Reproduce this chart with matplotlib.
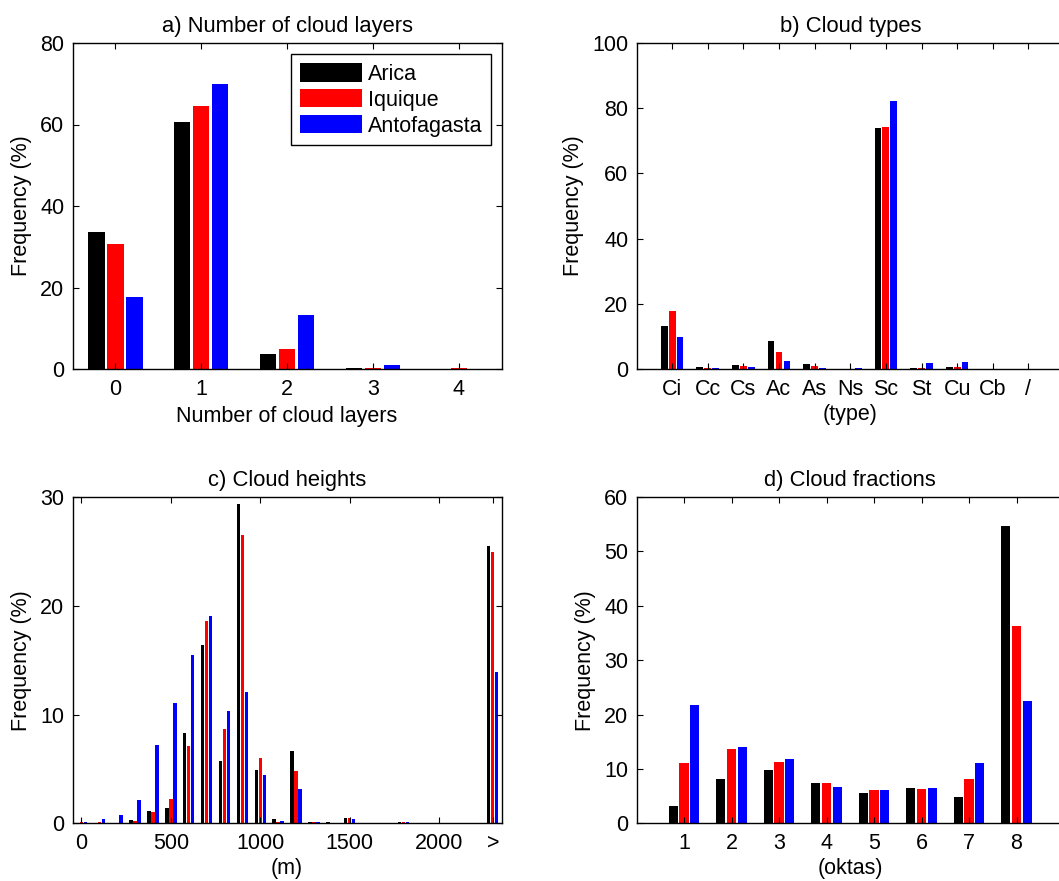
import numpy as np
import matplotlib
matplotlib.use("Agg")
import matplotlib.pyplot as plt

plt.rcParams["font.family"] = ["Liberation Sans", "DejaVu Sans"]
plt.rcParams["font.size"] = 15.5
plt.rcParams["axes.titlesize"] = 15.8
plt.rcParams["axes.labelsize"] = 15.5

stations = ["Arica", "Iquique", "Antofagasta"]
colors = ["black", "red", "blue"]

# a) numero de camadas
layers = [0, 1, 2, 3, 4]
arica_layers = [33.7, 60.5, 3.8, 0.25, 0.05]
iquique_layers = [30.6, 64.5, 5.0, 0.35, 0.25]
antof_layers = [17.6, 69.9, 13.3, 1.06, 0.15]

# b) tipos de nuvem
types = ["Ci", "Cc", "Cs", "Ac", "As", "Ns", "Sc", "St", "Cu", "Cb", "/"]
arica_types = [13.3, 0.7, 1.4, 8.7, 1.5, 0.0, 73.8, 0.4, 0.6, 0.0, 0.0]
iquique_types = [17.9, 0.3, 0.9, 5.2, 1.1, 0.2, 74.2, 0.3, 0.7, 0.2, 0.2]
antof_types = [9.9, 0.4, 0.7, 2.65, 0.4, 0.3, 82.1, 1.95, 2.25, 0.1, 0.1]

# c) alturas (m), o ultimo grupo e ">"
heights = [0, 100, 200, 300, 400, 500, 600, 700, 800, 900, 1000, 1100,
           1200, 1300, 1400, 1500, 1600, 1700, 1800, 1900, 2000, 2100, 2200, 2300]
arica_heights = [0.05, 0.05, 0.05, 0.3, 1.17, 1.38, 8.28, 16.4, 5.74, 29.39, 4.94, 0.37,
                 6.63, 0.15, 0.12, 0.49, 0.03, 0.03, 0.08, 0.03, 0.03, 0.0, 0.0, 25.46]
iquique_heights = [0.1, 0.1, 0.05, 0.2, 1.04, 2.27, 7.15, 18.56, 8.65, 26.47, 6.01, 0.12,
                   4.79, 0.1, 0.06, 0.49, 0.05, 0.05, 0.1, 0.05, 0.05, 0.0, 0.0, 24.9]
antof_heights = [0.15, 0.37, 0.8, 2.1, 7.24, 11.1, 15.5, 19.08, 10.28, 12.09, 4.45, 0.25,
                 3.19, 0.12, 0.06, 0.37, 0.05, 0.05, 0.1, 0.05, 0.03, 0.0, 0.0, 13.87]
height_ticks = [0, 500, 1000, 1500, 2000, 2300]
height_labels = ["0", "500", "1000", "1500", "2000", ">"]

# d) fracao de nuvens (oktas)
oktas = [1, 2, 3, 4, 5, 6, 7, 8]
arica_oktas = [3.1, 8.2, 9.8, 7.5, 5.6, 6.5, 4.8, 54.6]
iquique_oktas = [11.0, 13.7, 11.2, 7.45, 6.2, 6.3, 8.1, 36.3]
antof_oktas = [21.7, 14.1, 11.8, 6.65, 6.1, 6.45, 11.0, 22.5]


def barras(ax, x, series, step=1.0):
    x = np.asarray(x, dtype=float)
    for i, (vals, c) in enumerate(zip(series, colors)):
        ax.bar(x + (i - 1) * 0.222 * step, vals, width=0.19 * step,
               color=c, edgecolor="none", label=stations[i])


def estilo(ax, direita=True):
    ax.tick_params(direction="in", top=True, right=direita, length=4, width=0.8)
    ax.tick_params(axis="y", pad=6)
    ax.tick_params(axis="x", pad=7)
    for s in ax.spines.values():
        s.set_linewidth(1.0)
    ax.set_ylabel("Frequency (%)", labelpad=6)


fig = plt.figure(figsize=(10.59, 8.81), dpi=100)
W, H = 1059.0, 881.0


def eixo(l, r, t, b):
    return fig.add_axes([l / W, 1 - b / H, (r - l) / W, (b - t) / H])


ax1 = eixo(72.5, 501.7, 42.9, 369.3)
ax2 = eixo(636.5, 1064.0, 42.9, 369.3)
ax3 = eixo(72.5, 501.7, 497.0, 823.3)
ax4 = eixo(636.5, 1064.0, 497.0, 823.3)

# a)
barras(ax1, layers, [arica_layers, iquique_layers, antof_layers])
ax1.set_xlim(-0.5, 4.5)
ax1.set_ylim(0, 80)
ax1.set_xticks(layers)
ax1.set_yticks([0, 20, 40, 60, 80])
ax1.set_xlabel("Number of cloud layers", labelpad=4)
ax1.set_title("a) Number of cloud layers", pad=8)
estilo(ax1)
leg = ax1.legend(loc="upper right", bbox_to_anchor=(0.9744, 0.965), borderaxespad=0,
                 fancybox=False, framealpha=1, edgecolor="black",
                 handlelength=2.9, handleheight=0.95, handletextpad=0.26,
                 labelspacing=0.2, borderpad=0.4)
leg.get_frame().set_linewidth(1.0)

# b)
pos = np.arange(1, len(types) + 1)
barras(ax2, pos, [arica_types, iquique_types, antof_types])
ax2.set_xlim(0, 12)
ax2.set_ylim(0, 100)
ax2.set_xticks(pos)
ax2.set_xticklabels(types)
ax2.set_yticks([0, 20, 40, 60, 80, 100])
ax2.set_xlabel("(type)", labelpad=3)
ax2.set_title("b) Cloud types", pad=8)
estilo(ax2, direita=False)

# c)
barras(ax3, heights, [arica_heights, iquique_heights, antof_heights], step=100)
ax3.set_xlim(-50, 2350)
ax3.set_ylim(0, 30)
ax3.set_xticks(height_ticks)
ax3.set_xticklabels(height_labels)
ax3.set_yticks([0, 10, 20, 30])
ax3.set_xlabel("(m)", labelpad=3)
ax3.set_title("c) Cloud heights", pad=8)
estilo(ax3)

# d)
barras(ax4, oktas, [arica_oktas, iquique_oktas, antof_oktas])
ax4.set_xlim(0, 9)
ax4.set_ylim(0, 60)
ax4.set_xticks(oktas)
ax4.set_yticks([0, 10, 20, 30, 40, 50, 60])
ax4.set_xlabel("(oktas)", labelpad=3)
ax4.set_title("d) Cloud fractions", pad=8)
estilo(ax4, direita=False)

fig.savefig("out.png", dpi=100)
